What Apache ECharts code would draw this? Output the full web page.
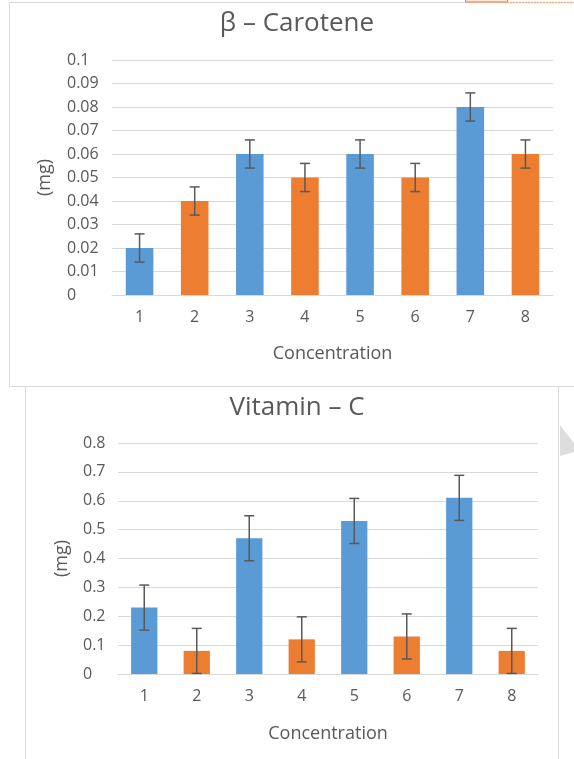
<!DOCTYPE html>
<html><head><meta charset="utf-8">
<script src="https://cdn.jsdelivr.net/npm/echarts@6/dist/echarts.min.js"></script>
<style>html,body{margin:0;padding:0;background:#fff}#c{width:574px;height:759px}</style>
</head><body><div id="c"></div>
<script>
const categories = ['1','2','3','4','5','6','7','8'];
const caroteneValues = [0.02, 0.04, 0.06, 0.05, 0.06, 0.05, 0.08, 0.06];
const caroteneErrors = [0.006, 0.006, 0.006, 0.006, 0.006, 0.006, 0.006, 0.006];
const vitaminCValues = [0.23, 0.08, 0.47, 0.12, 0.53, 0.13, 0.61, 0.08];
const vitaminCErrors = [0.078, 0.078, 0.078, 0.078, 0.078, 0.078, 0.078, 0.078];
const caroteneAxis = {min: 0, max: 0.1, interval: 0.01};
const vitaminCAxis = {min: 0, max: 0.8, interval: 0.1};
const titles = ['β – Carotene', 'Vitamin – C'];
const xName = 'Concentration';
const yName = '(mg)';

const BLUE = '#5B9BD5', ORANGE = '#ED7D31', TXT = '#595959', GRID = '#D9D9D9';
const FONT = 'Open Sans';

function barData(vals) {
  return vals.map((v, i) => ({value: v, itemStyle: {color: i % 2 === 0 ? BLUE : ORANGE}}));
}
function errData(vals, errs) {
  return vals.map((v, i) => [i, v, errs[i]]);
}
function renderErr(params, api) {
  const i = api.value(0), v = api.value(1), e = api.value(2);
  const top = api.coord([i, v + e]);
  const bot = api.coord([i, v - e]);
  const cap = 5;
  const style = {stroke: '#595959', lineWidth: 1.5};
  return {type: 'group', children: [
    {type: 'line', shape: {x1: top[0], y1: top[1], x2: bot[0], y2: bot[1]}, style},
    {type: 'line', shape: {x1: top[0]-cap, y1: top[1], x2: top[0]+cap, y2: top[1]}, style},
    {type: 'line', shape: {x1: bot[0]-cap, y1: bot[1], x2: bot[0]+cap, y2: bot[1]}, style}
  ]};
}
function xAxis(gi, gap) {
  return {type: 'category', gridIndex: gi, data: categories,
    axisLine: {lineStyle: {color: GRID}}, axisTick: {show: false},
    axisLabel: {color: TXT, fontSize: 16, fontFamily: FONT, margin: 14},
    name: xName, nameLocation: 'middle', nameGap: gap,
    nameTextStyle: {color: TXT, fontSize: 18, fontFamily: FONT}};
}
function yAxis(gi, ax, gap, labelMargin) {
  return {type: 'value', gridIndex: gi, min: ax.min, max: ax.max, interval: ax.interval,
    axisLine: {show: false}, axisTick: {show: false},
    splitLine: {lineStyle: {color: GRID, width: 1}},
    axisLabel: {color: TXT, fontSize: 16, fontFamily: FONT, margin: labelMargin, align: 'left'},
    name: yName, nameLocation: 'middle', nameGap: gap,
    nameTextStyle: {color: TXT, fontSize: 18, fontFamily: FONT}};
}

const chart = echarts.init(document.getElementById('c'), null, {renderer: 'canvas'});
chart.setOption({
  animation: false,
  backgroundColor: '#fff',
  graphic: [
    {type: 'rect', z: -10, shape: {x: 9.5, y: 2.5, width: 600, height: 384},
      style: {fill: '#fff', stroke: GRID, lineWidth: 1}},
    {type: 'rect', z: -9, shape: {x: 25.5, y: 386.5, width: 533, height: 400},
      style: {fill: '#fff', stroke: GRID, lineWidth: 1}},
    {type: 'rect', z: -8, shape: {x: 465.5, y: -5, width: 42, height: 7},
      style: {fill: '#FCE4D6', stroke: ORANGE, lineWidth: 1}},
    {type: 'line', z: -8, shape: {x1: 507, y1: 2.5, x2: 574, y2: 2.5},
      style: {stroke: '#F4B183', lineWidth: 1.5, lineDash: [2, 1]}},
    {type: 'polygon', z: -8, shape: {points: [[560, 425], [574, 443], [574, 452], [560, 456]]},
      style: {fill: '#DDDDDD'}}
  ],
  title: [
    {text: titles[0], left: 292, top: 6, textAlign: 'center',
      textStyle: {color: TXT, fontSize: 26, fontWeight: 'normal', fontFamily: FONT}},
    {text: titles[1], left: 292, top: 390, textAlign: 'center',
      textStyle: {color: TXT, fontSize: 26, fontWeight: 'normal', fontFamily: FONT}}
  ],
  grid: [
    {left: 112, right: 21, top: 60, height: 235},
    {left: 118, right: 36, top: 443, height: 231}
  ],
  xAxis: [xAxis(0, 50), xAxis(1, 51)],
  yAxis: [yAxis(0, caroteneAxis, 58, 45), yAxis(1, vitaminCAxis, 47, 35)],
  series: [
    {type: 'bar', xAxisIndex: 0, yAxisIndex: 0, barWidth: '50%', data: barData(caroteneValues)},
    {type: 'custom', xAxisIndex: 0, yAxisIndex: 0, renderItem: renderErr, data: errData(caroteneValues, caroteneErrors), z: 5},
    {type: 'bar', xAxisIndex: 1, yAxisIndex: 1, barWidth: '50%', data: barData(vitaminCValues)},
    {type: 'custom', xAxisIndex: 1, yAxisIndex: 1, renderItem: renderErr, data: errData(vitaminCValues, vitaminCErrors), z: 5}
  ]
});
</script></body></html>
